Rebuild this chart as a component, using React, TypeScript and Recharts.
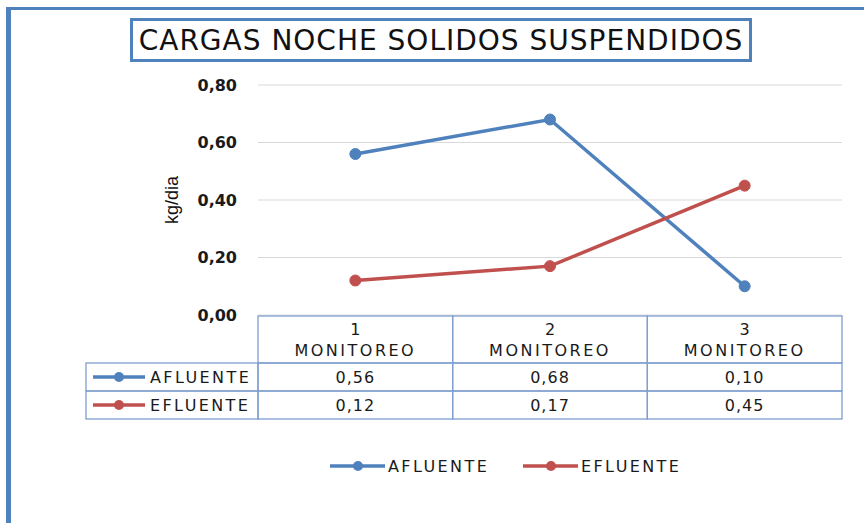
import React from "react";
import { LineChart, Line, XAxis, YAxis, CartesianGrid } from "recharts";

const CATEGORIES = ["1", "2", "3"];
const CATEGORY_SUFFIX = "MONITOREO";
const AFLUENTE = [0.56, 0.68, 0.1];
const EFLUENTE = [0.12, 0.17, 0.45];
const Y_TICKS = [0, 0.2, 0.4, 0.6, 0.8];

const SERIES = [
  { key: "afluente", name: "AFLUENTE", color: "#4F81BD", values: AFLUENTE },
  { key: "efluente", name: "EFLUENTE", color: "#C0504D", values: EFLUENTE },
];

const data = CATEGORIES.map((c, i) => ({
  name: c,
  afluente: AFLUENTE[i],
  efluente: EFLUENTE[i],
}));

const W = 864;
const H = 523;
const LEFT = 258;
const RIGHT = 22;
const TOP = 85;
const AXIS_H = 208;
const BAND = (W - LEFT - RIGHT) / CATEGORIES.length;
const HEAD_H = 47;
const ROW_H = 28;
const LABEL_W = 172;
const GRID_BLUE = "#7F9FCF";
const FONT = "'DejaVu Sans', sans-serif";

const fmt = (v: number) => v.toFixed(2).replace(".", ",");

const baseText = { fontFamily: FONT, fontSize: 16, fill: "#1a1a1a" };

function TableTick(props: any) {
  const { x, y, payload } = props;
  const idx = payload.index;
  const x0 = x - BAND / 2;
  return (
    <g>
      <rect x={x0} y={y + 1} width={BAND} height={HEAD_H} fill="none" stroke={GRID_BLUE} strokeWidth={1.3} />
      <text x={x} y={y + 20} textAnchor="middle" style={baseText}>{payload.value}</text>
      <text x={x} y={y + 41} textAnchor="middle" style={{ ...baseText, letterSpacing: 2.5 }}>{CATEGORY_SUFFIX}</text>
      {SERIES.map((s, r) => (
        <g key={s.key}>
          <rect x={x0} y={y + 1 + HEAD_H + r * ROW_H} width={BAND} height={ROW_H} fill="none" stroke={GRID_BLUE} strokeWidth={1.3} />
          <text x={x} y={y + 1 + HEAD_H + r * ROW_H + 20} textAnchor="middle" style={{ ...baseText, letterSpacing: 1 }}>
            {fmt(s.values[idx])}
          </text>
        </g>
      ))}
      {idx === 0 &&
        SERIES.map((s, r) => {
          const ry = y + 1 + HEAD_H + r * ROW_H;
          return (
            <g key={"lbl" + s.key}>
              <rect x={x0 - LABEL_W} y={ry} width={LABEL_W} height={ROW_H} fill="none" stroke={GRID_BLUE} strokeWidth={1.3} />
              <line x1={x0 - LABEL_W + 7} x2={x0 - LABEL_W + 59} y1={ry + 14} y2={ry + 14} stroke={s.color} strokeWidth={3.5} />
              <circle cx={x0 - LABEL_W + 33} cy={ry + 14} r={5} fill={s.color} />
              <text x={x0 - LABEL_W + 64} y={ry + 20} style={{ ...baseText, letterSpacing: 2.4 }}>{s.name}</text>
            </g>
          );
        })}
    </g>
  );
}

export default function App() {
  return (
    <div style={{ position: "absolute", left: 0, top: 0, width: W, height: H, background: "#fff" }}>
      <LineChart width={W} height={H} data={data} margin={{ top: TOP, right: RIGHT, bottom: 0, left: 0 }}>
        <CartesianGrid vertical={false} stroke="#D9D9D9" />
        <XAxis
          dataKey="name"
          height={AXIS_H}
          axisLine={false}
          tickLine={false}
          tickSize={0}
          tickMargin={0}
          interval={0}
          padding={{ left: BAND / 2, right: BAND / 2 }}
          tick={<TableTick />}
        />
        <YAxis
          width={LEFT}
          domain={[0, 0.8]}
          ticks={Y_TICKS}
          axisLine={false}
          tickLine={false}
          tickSize={0}
          tickMargin={21}
          tickFormatter={fmt}
          tick={{ fontFamily: FONT, fontSize: 16, fontWeight: "bold", fill: "#1a1a1a" }}
        />
        {SERIES.map((s) => (
          <Line
            key={s.key}
            dataKey={s.key}
            name={s.name}
            stroke={s.color}
            strokeWidth={3.5}
            dot={{ r: 5.5, fill: s.color, stroke: s.color, strokeWidth: 1 }}
            isAnimationActive={false}
          />
        ))}
      </LineChart>
      <div style={{ position: "absolute", left: 6, top: 7, width: W - 6, height: H - 7, borderTop: "3px solid #4F81BD", borderLeft: "5px solid #4F81BD", boxSizing: "border-box" }} />
      <div
        style={{
          position: "absolute", left: 130, top: 18, width: 622, height: 44, boxSizing: "border-box",
          border: "3px solid #4F81BD", display: "flex", alignItems: "center", justifyContent: "center",
          fontFamily: FONT, fontSize: 28, color: "#111", letterSpacing: 1,
        }}
      >
        CARGAS NOCHE SOLIDOS SUSPENDIDOS
      </div>
      <div
        style={{
          position: "absolute", left: 172, top: 200, transform: "translate(-50%, -50%) rotate(-90deg)",
          fontFamily: "'Liberation Sans', sans-serif", fontSize: 18, color: "#111", whiteSpace: "nowrap",
        }}
      >
        kg/dia
      </div>
      <svg style={{ position: "absolute", left: 0, top: 0 }} width={W} height={H} pointerEvents="none">
        {SERIES.map((s, i) => {
          const lx = 330 + i * 193;
          return (
            <g key={s.key}>
              <line x1={lx} x2={lx + 55} y1={466} y2={466} stroke={s.color} strokeWidth={3.5} />
              <circle cx={lx + 28} cy={466} r={5} fill={s.color} />
              <text x={lx + 58} y={472} style={{ ...baseText, letterSpacing: 2.4 }}>
                {s.name}
              </text>
            </g>
          );
        })}
      </svg>
    </div>
  );
}
